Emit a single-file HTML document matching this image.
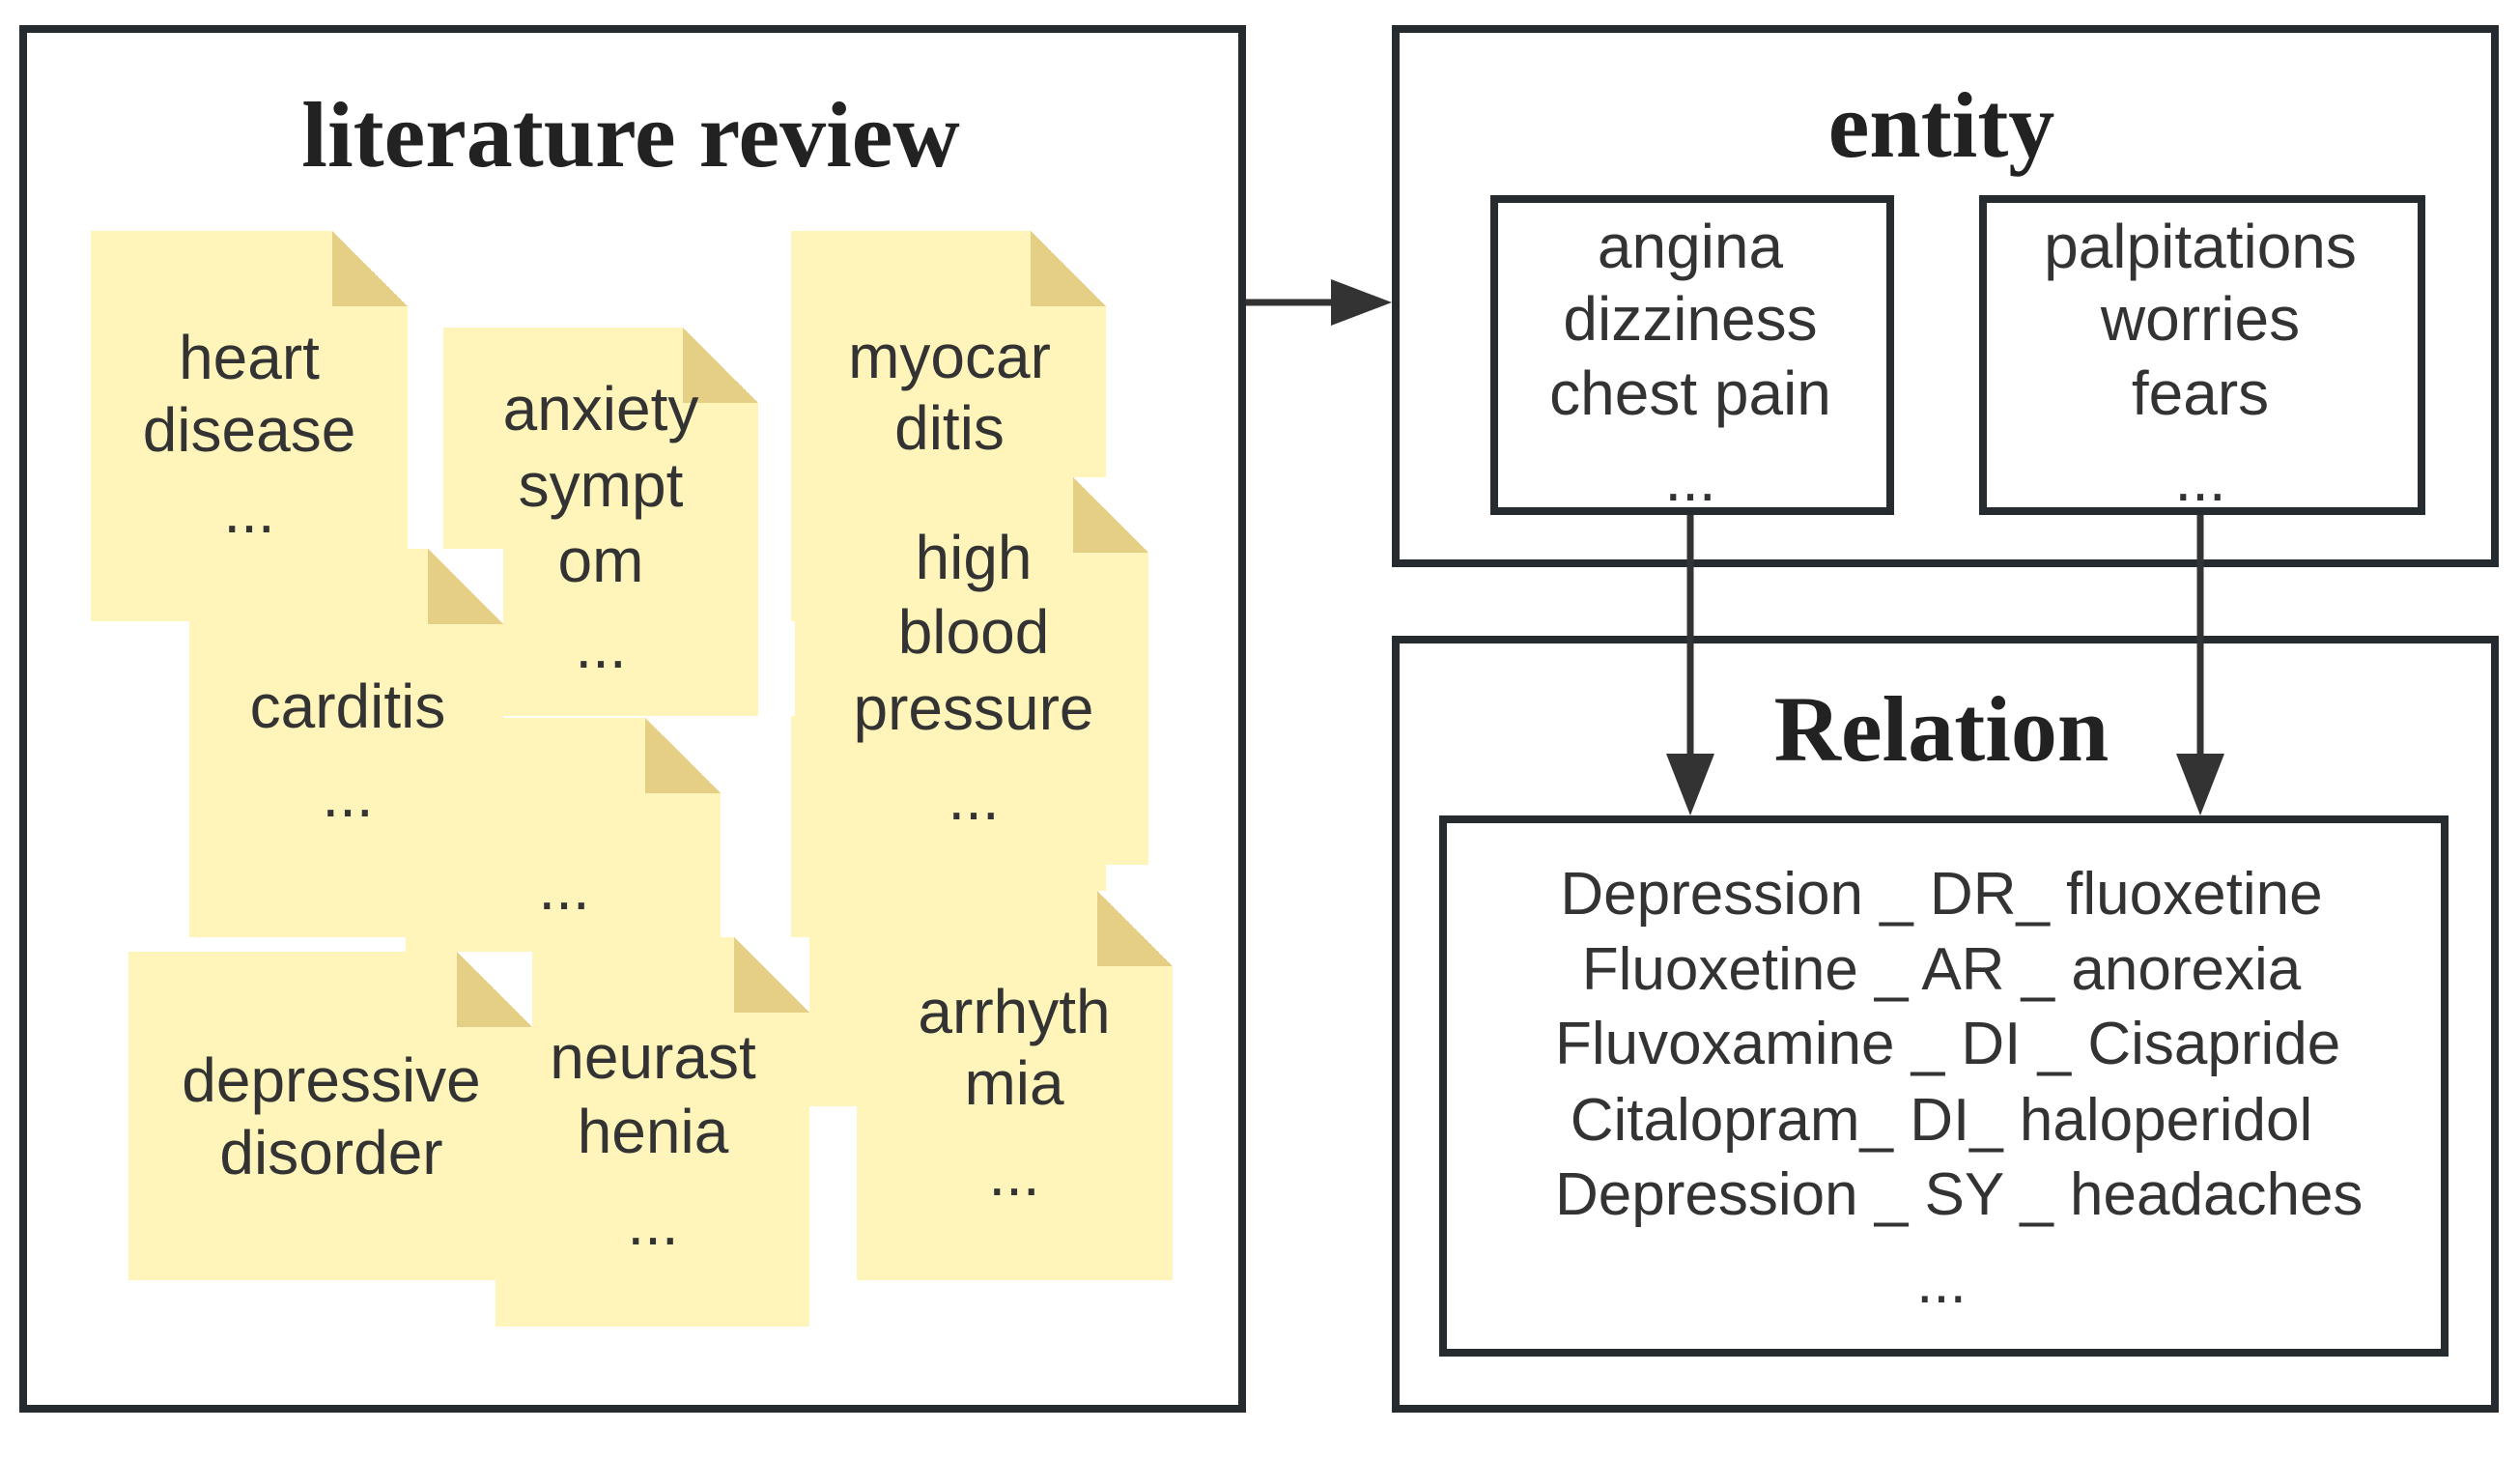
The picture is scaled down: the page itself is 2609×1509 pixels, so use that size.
<!DOCTYPE html>
<html><head><meta charset="utf-8"><style>
html,body{margin:0;padding:0;background:#fff;}
body{width:2609px;height:1509px;position:relative;overflow:hidden;font-family:"Liberation Sans",sans-serif;}
.box{position:absolute;border:8px solid #262b30;box-sizing:border-box;}
.note{position:absolute;background:#fff5bb;}
.note::after{content:"";position:absolute;right:0;top:0;width:78px;height:78px;background:linear-gradient(225deg,#fff 50%,#e4cf84 50%);}
.t{position:absolute;width:600px;height:80px;line-height:80px;text-align:center;font-size:64px;color:#333;white-space:nowrap;}
.r{font-size:62px;}
.h{position:absolute;width:800px;height:110px;line-height:110px;text-align:center;font-family:"Liberation Serif",serif;font-weight:bold;font-size:96px;color:#222;}
</style></head><body>
<div class="box" style="left:20px;top:26px;width:1270px;height:1436px;"></div>
<div class="box" style="left:1441px;top:26px;width:1146px;height:561px;"></div>
<div class="box" style="left:1441px;top:658px;width:1146px;height:804px;"></div>
<div class="box" style="left:1543px;top:202px;width:418px;height:331px;"></div>
<div class="box" style="left:2049px;top:202px;width:462px;height:331px;"></div>
<div class="box" style="left:1490px;top:844px;width:1045px;height:560px;"></div>

<div class="h" style="left:253px;top:85px;">literature review</div>
<div class="h" style="left:1610px;top:75px;">entity</div>
<div class="h" style="left:1610px;top:700px;">Relation</div>

<div class="note" style="left:94px;top:239px;width:328px;height:404px;"></div>
<div class="note" style="left:819px;top:239px;width:326px;height:404px;"></div>
<div class="note" style="left:819px;top:741px;width:326px;height:404px;"></div>
<div class="note" style="left:459px;top:339px;width:326px;height:402px;"></div>
<div class="note" style="left:196px;top:568px;width:325px;height:402px;"></div>
<div class="note" style="left:420px;top:743px;width:326px;height:402px;"></div>
<div class="note" style="left:823px;top:494px;width:366px;height:401px;"></div>
<div class="note" style="left:513px;top:970px;width:325px;height:403px;"></div>
<div class="note" style="left:133px;top:985px;width:418px;height:340px;"></div>
<div class="note" style="left:887px;top:922px;width:327px;height:403px;"></div>

<div class="t" style="left:-42px;top:330px;">heart</div>
<div class="t" style="left:-42px;top:405px;">disease</div>
<div class="t" style="left:-42px;top:489px;">...</div>
<div class="t" style="left:322px;top:383px;">anxiety</div>
<div class="t" style="left:322px;top:462px;">sympt</div>
<div class="t" style="left:322px;top:540px;">om</div>
<div class="t" style="left:322px;top:629px;">...</div>
<div class="t" style="left:683px;top:329px;">myocar</div>
<div class="t" style="left:683px;top:403px;">ditis</div>
<div class="t" style="left:708px;top:537px;">high</div>
<div class="t" style="left:708px;top:614px;">blood</div>
<div class="t" style="left:708px;top:693px;">pressure</div>
<div class="t" style="left:708px;top:786px;">...</div>
<div class="t" style="left:60px;top:691px;">carditis</div>
<div class="t" style="left:60px;top:783px;">...</div>
<div class="t" style="left:284px;top:879px;">...</div>
<div class="t" style="left:43px;top:1078px;">depressive</div>
<div class="t" style="left:43px;top:1153px;">disorder</div>
<div class="t" style="left:376px;top:1054px;">neurast</div>
<div class="t" style="left:376px;top:1131px;">henia</div>
<div class="t" style="left:376px;top:1226px;">...</div>
<div class="t" style="left:750px;top:1007px;">arrhyth</div>
<div class="t" style="left:750px;top:1081px;">mia</div>
<div class="t" style="left:750px;top:1175px;">...</div>

<div class="t" style="left:1450px;top:215px;">angina</div>
<div class="t" style="left:1450px;top:290px;">dizziness</div>
<div class="t" style="left:1450px;top:367px;">chest pain</div>
<div class="t" style="left:1450px;top:456px;">...</div>
<div class="t" style="left:1978px;top:215px;">palpitations</div>
<div class="t" style="left:1978px;top:290px;">worries</div>
<div class="t" style="left:1978px;top:367px;">fears</div>
<div class="t" style="left:1978px;top:456px;">...</div>

<div class="t r" style="left:1610px;top:886px;width:800px;">Depression _ DR_ fluoxetine</div>
<div class="t r" style="left:1610px;top:964px;width:800px;">Fluoxetine _ AR _ anorexia</div>
<div class="t r" style="left:1610px;top:1041px;width:800px;">Fluvoxamine _ DI _ Cisapride</div>
<div class="t r" style="left:1610px;top:1120px;width:800px;">Citalopram_ DI_ haloperidol</div>
<div class="t r" style="left:1610px;top:1197px;width:800px;">Depression _ SY _ headaches</div>
<div class="t r" style="left:1610px;top:1288px;width:800px;">...</div>

<svg width="2609" height="1509" style="position:absolute;left:0;top:0;">
<g stroke="#333" stroke-width="7" fill="#333">
<line x1="1290" y1="313" x2="1385" y2="313"/>
<polygon points="1378,289 1441,313 1378,337" stroke="none"/>
<line x1="1750" y1="533" x2="1750" y2="790"/>
<polygon points="1725,780 1775,780 1750,844" stroke="none"/>
<line x1="2278" y1="533" x2="2278" y2="790"/>
<polygon points="2253,780 2303,780 2278,844" stroke="none"/>
</g>
</svg>
</body></html>
